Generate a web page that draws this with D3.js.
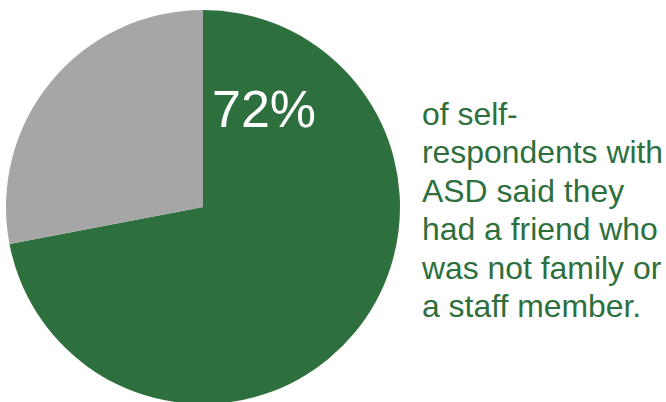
<!DOCTYPE html>
<html>
<head>
<meta charset="utf-8">
<script src="https://cdn.jsdelivr.net/npm/d3@7"></script>
<style>
  html, body { margin: 0; padding: 0; background: #ffffff; }
  svg { display: block; }
</style>
</head>
<body>
<svg id="chart" width="666" height="402"></svg>
<script>
const categories = ["Had a non-family, non-staff friend", "Did not"];
const values = [72, 28];
const sliceColors = ["#2e6f3e", "#a6a6a6"];
const bigLabel = "72%";
const captionLines = ["of self-", "respondents with", "ASD said they", "had a friend who", "was not family or", "a staff member."];

const svg = d3.select("#chart");
const cx = 203, cy = 207, r = 197;

const pie = d3.pie().sort(null).value(d => d)(values);
const arc = d3.arc().innerRadius(0).outerRadius(r);
const color = d3.scaleOrdinal().domain(categories).range(sliceColors);

const g = svg.append("g").attr("transform", `translate(${cx},${cy})`);
g.selectAll("path")
  .data(pie)
  .join("path")
  .attr("d", arc)
  .attr("fill", (d, i) => color(categories[i]));

svg.append("text")
  .attr("x", 212)
  .attr("y", 127)
  .attr("fill", "#ffffff")
  .attr("font-family", "'Liberation Sans', Arial, sans-serif")
  .attr("font-size", 52)
  .text(bigLabel);

const cap = svg.append("text")
  .attr("fill", "#2e6f3e")
  .attr("font-family", "'Liberation Sans', Arial, sans-serif")
  .attr("font-size", 31.9);
cap.selectAll("tspan")
  .data(captionLines)
  .join("tspan")
  .attr("x", 422)
  .attr("y", (d, i) => 125 + i * 38.4)
  .text(d => d);
</script>
</body>
</html>
